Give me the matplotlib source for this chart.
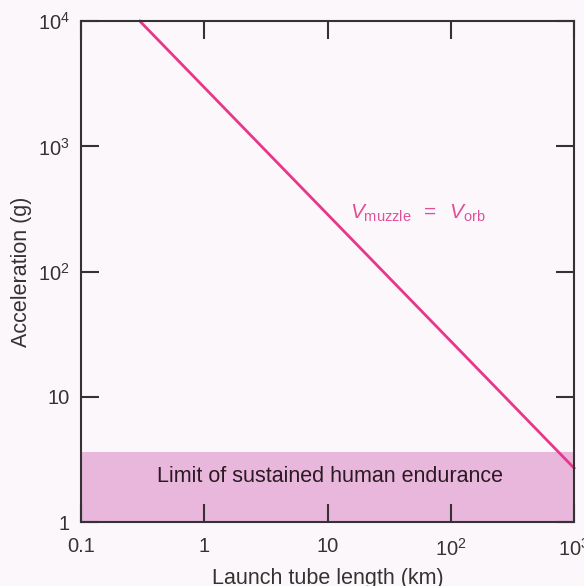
import numpy as np
import matplotlib.pyplot as plt

# data
tube_km = [0.3, 1000]
accel_g = [1e4, 2.7]
endurance_g = 3.6
x_ticks = [0.1, 1, 10, 100, 1000]
x_labels = ['0.1', '1', '10', r'$10^2$', r'$10^3$']
y_ticks = [1, 10, 100, 1000, 10000]
y_labels = ['1', '10', r'$10^2$', r'$10^3$', r'$10^4$']

plt.rcParams['font.family'] = 'Liberation Sans'
plt.rcParams['mathtext.fontset'] = 'custom'
plt.rcParams['mathtext.rm'] = 'Liberation Sans'
plt.rcParams['mathtext.it'] = 'Liberation Sans:italic'

bg = '#fcf7fb'
pink = '#e8368a'
shade = '#e9b6dc'

fig = plt.figure(figsize=(5.84, 5.86), dpi=100, facecolor=bg)
ax = fig.add_axes([0.1387, 0.109, 0.8443, 0.855])
ax.set_facecolor(bg)
ax.set_xscale('log')
ax.set_yscale('log')
ax.set_xlim(0.1, 1000)
ax.set_ylim(1, 1e4)

# zone of human endurance
ax.axhspan(1, endurance_g, color=shade, lw=0, zorder=1)
ax.text(10.5, 2.3, 'Limit of sustained human endurance', fontsize=15.5,
        color='#2a1a22', ha='center', va='center', zorder=3)

ax.plot(tube_km, accel_g, color=pink, lw=2, zorder=2, clip_on=False)
ax.text(54, 290, r'$V_{\rm muzzle}\;\;=\;\;V_{\rm orb}$', fontsize=15,
        color='#e0509a', ha='center', va='center')

ax.set_xticks(x_ticks)
ax.set_xticklabels(x_labels)
ax.set_yticks(y_ticks)
ax.set_yticklabels(y_labels)
ax.minorticks_off()
ax.tick_params(which='major', direction='in', length=13, width=1.5,
               top=True, right=True, labelsize=14.5, colors='#333333')
ax.tick_params(axis='x', pad=11)
ax.tick_params(axis='y', pad=8)
for s in ax.spines.values():
    s.set_linewidth(1.5)
    s.set_color('#333333')

ax.set_xlabel('Launch tube length (km)', fontsize=15.5, color='#333333', labelpad=6)
ax.set_ylabel('Acceleration (g)', fontsize=15.5, color='#333333', labelpad=4)

fig.savefig('out.png', dpi=100, facecolor=bg)
